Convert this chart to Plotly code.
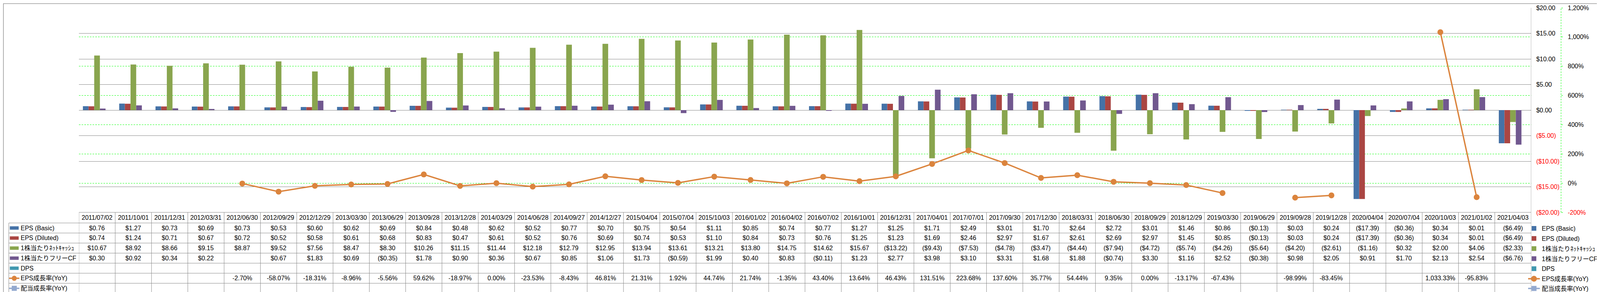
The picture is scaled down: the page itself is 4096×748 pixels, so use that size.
import plotly.graph_objects as go

# ---------------- data ----------------
dates = ["2011/07/02", "2011/10/01", "2011/12/31", "2012/03/31", "2012/06/30", "2012/09/29",
         "2012/12/29", "2013/03/30", "2013/06/29", "2013/09/28", "2013/12/28", "2014/03/29",
         "2014/06/28", "2014/09/27", "2014/12/27", "2015/04/04", "2015/07/04", "2015/10/03",
         "2016/01/02", "2016/04/02", "2016/07/02", "2016/10/01", "2016/12/31", "2017/04/01",
         "2017/07/01", "2017/09/30", "2017/12/30", "2018/03/31", "2018/06/30", "2018/09/29",
         "2018/12/29", "2019/03/30", "2019/06/29", "2019/09/28", "2019/12/28", "2020/04/04",
         "2020/07/04", "2020/10/03", "2021/01/02", "2021/04/03"]

eps_basic = [0.76, 1.27, 0.73, 0.69, 0.73, 0.53, 0.60, 0.62, 0.69, 0.84, 0.48, 0.62, 0.52, 0.77,
             0.70, 0.75, 0.54, 1.11, 0.85, 0.74, 0.77, 1.27, 1.25, 1.71, 2.49, 3.01, 1.70, 2.64,
             2.72, 3.01, 1.46, 0.86, -0.13, 0.03, 0.24, -17.39, -0.36, 0.34, 0.01, -6.49]

eps_diluted = [0.74, 1.24, 0.71, 0.67, 0.72, 0.52, 0.58, 0.61, 0.68, 0.83, 0.47, 0.61, 0.52, 0.76,
               0.69, 0.74, 0.53, 1.10, 0.84, 0.73, 0.76, 1.25, 1.23, 1.69, 2.46, 2.97, 1.67, 2.61,
               2.69, 2.97, 1.45, 0.85, -0.13, 0.03, 0.24, -17.39, -0.36, 0.34, 0.01, -6.49]

net_cash = [10.67, 8.92, 8.66, 9.15, 8.87, 9.52, 7.56, 8.47, 8.30, 10.26, 11.15, 11.44, 12.18,
            12.79, 12.95, 13.94, 13.61, 13.21, 13.80, 14.75, 14.62, 15.67, -13.22, -9.43, -7.53,
            -4.78, -3.47, -4.44, -7.94, -4.72, -5.74, -4.26, -5.64, -4.20, -2.61, -1.16, 0.32,
            2.00, 4.06, -2.33]

fcf = [0.30, 0.92, 0.34, 0.22, None, 0.67, 1.83, 0.69, -0.35, 1.78, 0.90, 0.36, 0.67, 0.85,
       1.06, 1.73, -0.59, 1.99, 0.40, 0.83, -0.11, 1.23, 2.77, 3.98, 3.10, 3.31, 1.68, 1.88,
       -0.74, 3.30, 1.16, 2.52, -0.38, 0.98, 2.05, 0.91, 1.70, 2.13, 2.54, -6.76]

dps = [None] * len(dates)

eps_growth = [None, None, None, None, -2.70, -58.07, -18.31, -8.96, -5.56, 59.62, -18.97, 0.00,
              -23.53, -8.43, 46.81, 21.31, 1.92, 44.74, 21.74, -1.35, 43.40, 13.64, 46.43,
              131.51, 223.68, 137.60, 35.77, 54.44, 9.35, 0.00, -13.17, -67.43, None, -98.99,
              -83.45, None, None, 1033.33, -95.83, None]

div_growth = [None] * len(dates)

series_names = ["EPS (Basic)", "EPS (Diluted)", "1株当たりﾈｯﾄｷｬｯｼｭ", "1株当たりフリーCF", "DPS",
                "EPS成長率(YoY)", "配当成長率(YoY)"]

y1_tickvals = [-20, -15, -10, -5, 0, 5, 10, 15, 20]
y1_ticktext = ["($20.00)", "($15.00)", "($10.00)", "($5.00)", "$0.00", "$5.00", "$10.00",
               "$15.00", "$20.00"]
y2_tickvals = [-200, 0, 200, 400, 600, 800, 1000, 1200]
y2_ticktext = ["-200%", "0%", "200%", "400%", "600%", "800%", "1,000%", "1,200%"]

# ---------------- style ----------------
colors = ["#4572A7", "#AA4643", "#89A54E", "#71588F", "#4198AF", "#DB843D", "#93A9CF"]
GRID = "#878787"
LIME = "#00FF00"
FONT = "Liberation Sans, Noto Sans CJK JP, sans-serif"
FS = 16

W, H = 4096, 748
S = 0.871
PL = 223 * S
PR = 4491 * S
PT = 13.3 * S
PB = 617 * S
PW = W - PL
PH = PB - PT
Y2_AXIS_PX = 4579 * S
TABLE_LEFT = 17 * S
HEADER_BOTTOM = 648.3 * S
ROW_H = 29.67 * S
N_ROWS = 7
TABLE_BOTTOM = HEADER_BOTTOM + N_ROWS * ROW_H
LEGEND_X_PX = 3899


def px2x(px):
    return (px - PL) / PW


def py2y(py):
    return (PB - py) / PH


def red_neg(vals, texts):
    return [("<span style='color:#FF0000'>%s</span>" % t) if v < 0 else t
            for v, t in zip(vals, texts)]


def fmt_money(v):
    if v is None:
        return ""
    return "(${:.2f})".format(-v) if v < 0 else "${:.2f}".format(v)


def fmt_pct(v):
    if v is None:
        return ""
    return "{:,.2f}%".format(v)


def row_center(r):
    return HEADER_BOTTOM + (r + 0.5) * ROW_H


legend_ids = ["legend"] + ["legend%d" % i for i in range(2, 8)]

fig = go.Figure()

bar_series = [eps_basic, eps_diluted, net_cash, fcf, dps]
for i, ys in enumerate(bar_series):
    fig.add_trace(go.Bar(x=dates, y=ys, name=series_names[i], marker_color=colors[i],
                         marker_line_width=0, legend=legend_ids[i], yaxis="y"))

fig.add_trace(go.Scatter(x=dates, y=eps_growth, name=series_names[5], yaxis="y2",
                         mode="lines+markers", connectgaps=False,
                         line=dict(color=colors[5], width=3.5),
                         marker=dict(color=colors[5], size=15, line=dict(width=0)),
                         legend=legend_ids[5]))
fig.add_trace(go.Scatter(x=dates, y=div_growth, name=series_names[6], yaxis="y2",
                         mode="lines+markers", connectgaps=False,
                         line=dict(color=colors[6], width=3.5),
                         marker=dict(color=colors[6], size=13, symbol="square", line=dict(width=0)),
                         legend=legend_ids[6]))

shapes = []
annotations = []

# outer frame
shapes.append(dict(type="rect", xref="paper", yref="paper",
                   x0=px2x(0.9), x1=px2x(W - 1.5), y0=py2y(0.9), y1=py2y(746.5),
                   line=dict(color=GRID, width=1.3), fillcolor="rgba(0,0,0,0)", layer="above"))

# secondary axis dashed line
shapes.append(dict(type="line", xref="paper", yref="paper", x0=px2x(Y2_AXIS_PX),
                   x1=px2x(Y2_AXIS_PX), y0=0, y1=1,
                   line=dict(color=LIME, width=1, dash="4px,3px")))

# table horizontal lines
shapes.append(dict(type="line", xref="x", yref="paper", x0=-0.5, x1=len(dates) - 0.5,
                   y0=0, y1=0, line=dict(color=GRID, width=1)))
for r in range(N_ROWS + 1):
    yy = py2y(HEADER_BOTTOM + r * ROW_H)
    shapes.append(dict(type="line", xref="paper", yref="paper", x0=px2x(TABLE_LEFT),
                       x1=px2x(PR), y0=yy, y1=yy, line=dict(color=GRID, width=1)))
# table vertical lines
for k in range(len(dates) + 1):
    top = 1 if k == len(dates) else 0
    shapes.append(dict(type="line", xref="x", yref="paper", x0=k - 0.5, x1=k - 0.5,
                       y0=top, y1=py2y(TABLE_BOTTOM), line=dict(color=GRID, width=1)))
shapes.append(dict(type="line", xref="paper", yref="paper", x0=px2x(TABLE_LEFT),
                   x1=px2x(TABLE_LEFT), y0=py2y(HEADER_BOTTOM), y1=py2y(TABLE_BOTTOM),
                   line=dict(color=GRID, width=1)))

# header dates
header_y = py2y((PB + HEADER_BOTTOM) / 2)
for d in dates:
    annotations.append(dict(x=d, y=header_y, xref="x", yref="paper", text=d, showarrow=False,
                            font=dict(size=FS, color="black", family=FONT),
                            xanchor="center", yanchor="middle"))

row_values = [eps_basic, eps_diluted, net_cash, fcf, dps, eps_growth, div_growth]
row_fmt = [fmt_money] * 5 + [fmt_pct] * 2
for r, vals in enumerate(row_values):
    cy = row_center(r)
    yy = py2y(cy)
    for d, v in zip(dates, vals):
        t = row_fmt[r](v)
        if t:
            annotations.append(dict(x=d, y=yy, xref="x", yref="paper", text=t, showarrow=False,
                                    font=dict(size=FS, color="black", family=FONT),
                                    xanchor="center", yanchor="middle"))
    # label
    annotations.append(dict(x=px2x(49.5 * S), y=yy, xref="paper", yref="paper",
                            text=series_names[r], showarrow=False,
                            font=dict(size=FS, color="black", family=FONT),
                            xanchor="left", yanchor="middle"))
    # key
    if r < 5:
        shapes.append(dict(type="rect", xref="paper", yref="paper",
                           x0=px2x(20 * S), x1=px2x(46 * S),
                           y0=py2y(cy - 5 * S), y1=py2y(cy + 5 * S),
                           fillcolor=colors[r], line=dict(width=0)))
    else:
        shapes.append(dict(type="line", xref="paper", yref="paper",
                           x0=px2x(18 * S), x1=px2x(48 * S), y0=yy, y1=yy,
                           line=dict(color=colors[r], width=3.5)))
        mx = 33 * S
        rr = 6.5
        if r == 5:
            shapes.append(dict(type="circle", xref="paper", yref="paper",
                               x0=px2x(mx - rr), x1=px2x(mx + rr),
                               y0=py2y(cy - rr), y1=py2y(cy + rr),
                               fillcolor=colors[r], line=dict(width=0)))
        else:
            shapes.append(dict(type="rect", xref="paper", yref="paper",
                               x0=px2x(mx - rr), x1=px2x(mx + rr),
                               y0=py2y(cy - rr), y1=py2y(cy + rr),
                               fillcolor=colors[r], line=dict(width=0)))

legend_layouts = {}
for r, lid in enumerate(legend_ids):
    legend_layouts[lid] = dict(x=px2x(LEGEND_X_PX), xanchor="left", y=py2y(row_center(r)),
                               yanchor="middle", font=dict(size=FS, family=FONT, color="black"),
                               bgcolor="rgba(0,0,0,0)", borderwidth=0, itemclick=False,
                               itemdoubleclick=False)

fig.update_layout(
    width=W, height=H,
    margin=dict(l=PL, r=0, t=PT, b=H - PB, pad=0),
    paper_bgcolor="white", plot_bgcolor="white",
    font=dict(family=FONT, size=FS, color="black"),
    barmode="group", bargap=0.22, bargroupgap=0,
    showlegend=True,
    xaxis=dict(type="category", domain=[0, px2x(PR)], range=[-0.5, len(dates) - 0.5],
               showticklabels=False, showgrid=False, zeroline=False, ticks="", showline=False),
    yaxis=dict(range=[-20, 20], side="right", anchor="x", tickvals=y1_tickvals,
               ticktext=red_neg(y1_tickvals, y1_ticktext), showgrid=True, gridcolor=GRID,
               gridwidth=1, zeroline=False, ticks="", showline=False, ticklabelstandoff=12,
               tickfont=dict(size=FS, family=FONT, color="black")),
    yaxis2=dict(range=[-200, 1200], overlaying="y", anchor="free", position=px2x(Y2_AXIS_PX),
                side="right", tickvals=y2_tickvals, ticktext=red_neg(y2_tickvals, y2_ticktext),
                showgrid=True, gridcolor=LIME, griddash="4px,3px", gridwidth=1,
                zeroline=False, ticks="outside", ticklen=4, tickcolor=LIME, tickwidth=1,
                showline=False, ticklabelstandoff=9,
                tickfont=dict(size=FS, family=FONT, color="black")),
    shapes=shapes,
    annotations=annotations,
    **legend_layouts,
)

fig.write_html("out.html")
